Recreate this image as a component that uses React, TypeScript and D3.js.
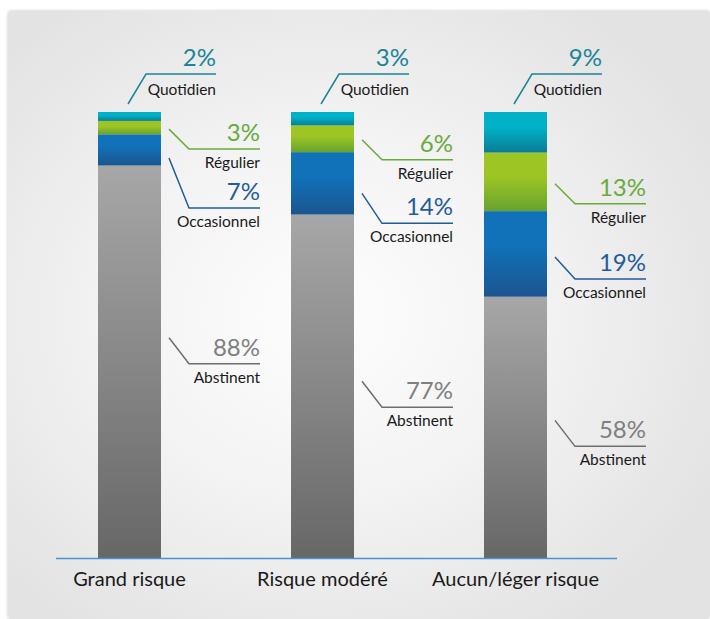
import React from "react";
import * as d3 from "d3";

// ---- data ----
const categories = ["Grand risque", "Risque modéré", "Aucun/léger risque"];
const seriesKeys = ["Abstinent", "Occasionnel", "Régulier", "Quotidien"];
const abstinent = [88, 77, 58];
const occasionnel = [7, 14, 19];
const regulier = [3, 6, 13];
const quotidien = [2, 3, 9];

// ---- styling / layout ----
const W = 710;
const H = 619;
const FONT = "Lato, 'Open Sans', sans-serif";

const segColors: Record<string, [string, string]> = {
  Quotidien: ["#00b1c7", "#0b7c95"],
  Régulier: ["#9dc624", "#68a22f"],
  Occasionnel: ["#1171b9", "#1b5590"],
  Abstinent: ["#a7a7a7", "#676767"],
};
const textColors: Record<string, string> = {
  Quotidien: "#1b8499",
  Régulier: "#68ab3c",
  Occasionnel: "#1f5c9c",
  Abstinent: "#7f7f7f",
};
const lineColors: Record<string, string> = {
  Quotidien: "#1b8499",
  Régulier: "#68ab3c",
  Occasionnel: "#1f5c9c",
  Abstinent: "#6e6e6e",
};
// leader layout for side labels: nudge of start from segment middle, vertical drop
const sideLayout: Record<string, { nudge: number; drop: number }[]> = {
  Régulier: [
    { nudge: 1.5, drop: 20 },
    { nudge: 1, drop: 20 },
    { nudge: 2, drop: 20 },
  ],
  Occasionnel: [
    { nudge: 8, drop: 50 },
    { nudge: 10, drop: 30 },
    { nudge: 3, drop: 22 },
  ],
  Abstinent: [
    { nudge: -24, drop: 26 },
    { nudge: -5, drop: 26 },
    { nudge: -7, drop: 26 },
  ],
};

const NUM_SIZE = 24;
const NAME_SIZE = 15.5;

export default function App() {
  const values: Record<string, number[]> = {
    Abstinent: abstinent,
    Occasionnel: occasionnel,
    Régulier: regulier,
    Quotidien: quotidien,
  };
  const rows = categories.map((c, i) => {
    const r: any = { cat: c };
    seriesKeys.forEach((k) => (r[k] = values[k][i]));
    return r;
  });
  const stacked = d3.stack<any>().keys(seriesKeys).offset(d3.stackOffsetExpand)(rows);

  const x = d3
    .scaleBand<string>()
    .domain(categories)
    .range([33, 612])
    .paddingInner(0.6736)
    .paddingOuter(0.3368);
  const y = d3.scaleLinear().domain([0, 1]).range([558, 112]);
  const bw = x.bandwidth();

  const labels: React.ReactNode[] = [];
  stacked.forEach((s) => {
    const key = s.key;
    s.forEach((d, i) => {
      const cat = categories[i];
      const left = x(cat)!;
      const right = left + bw;
      const valText = `${values[key][i]}%`;
      let sx: number, sy: number, ex: number, ey: number, rx: number, nameDy: number;
      if (key === "Quotidien") {
        const top = y(d[1]);
        sx = left + 30;
        sy = top - 8;
        ex = left + 48;
        ey = sy - 30;
        rx = left + 118;
        nameDy = 21;
      } else {
        const mid = (y(d[0]) + y(d[1])) / 2;
        const lay = sideLayout[key][i];
        sx = right + 8;
        sy = mid + lay.nudge;
        ex = right + 28;
        ey = sy + lay.drop;
        rx = right + 99;
        nameDy = 19;
      }
      labels.push(
        <g key={key + i}>
          <polyline
            points={`${sx},${sy} ${ex},${ey} ${rx},${ey}`}
            fill="none"
            stroke={lineColors[key]}
            strokeWidth={1.5}
          />
          <text x={rx} y={ey - 8} textAnchor="end" fontSize={NUM_SIZE} fill={textColors[key]} fontFamily={FONT}>
            {valText}
          </text>
          <text x={rx} y={ey + nameDy} textAnchor="end" fontSize={NAME_SIZE} fill="#1a1a1a" fontFamily={FONT}>
            {key}
          </text>
        </g>
      );
    });
  });

  return (
    <svg
      width={W}
      height={H}
      style={{ position: "absolute", left: 0, top: 0, background: "#ffffff" }}
    >
      <defs>
        <radialGradient id="bg" cx="0.45" cy="0.5" r="0.62">
          <stop offset="0" stopColor="#fdfdfd" />
          <stop offset="0.45" stopColor="#f4f4f4" />
          <stop offset="1" stopColor="#e3e3e3" />
        </radialGradient>
        <filter id="shadow" x="-5%" y="-5%" width="110%" height="110%">
          <feGaussianBlur in="SourceAlpha" stdDeviation="1.5" />
          <feOffset dx="0" dy="-0.5" />
          <feComponentTransfer>
            <feFuncA type="linear" slope="0.25" />
          </feComponentTransfer>
          <feMerge>
            <feMergeNode />
            <feMergeNode in="SourceGraphic" />
          </feMerge>
        </filter>
        {seriesKeys.map((k) => (
          <linearGradient key={k} id={`g-${k}`} x1="0" y1="0" x2="0" y2="1">
            <stop offset="0" stopColor={segColors[k][0]} />
            <stop offset={k === "Abstinent" ? "0" : "0.4"} stopColor={segColors[k][0]} />
            <stop offset="1" stopColor={segColors[k][1]} />
          </linearGradient>
        ))}
      </defs>
      <rect x={8} y={11} width={W - 8} height={H - 11} rx={3} fill="url(#bg)" filter="url(#shadow)" />

      {stacked.map((s) => (
        <g key={s.key}>
          {s.map((d, i) => (
            <rect
              key={i}
              x={x(categories[i])}
              y={y(d[1])}
              width={bw}
              height={y(d[0]) - y(d[1])}
              fill={`url(#g-${s.key})`}
            />
          ))}
        </g>
      ))}

      <line x1={56} x2={617} y1={558.5} y2={558.5} stroke="#4a92d6" strokeWidth={1.5} />

      {categories.map((c) => (
        <text
          key={c}
          x={x(c)! + bw / 2}
          y={586}
          textAnchor="middle"
          fontSize={20}
          fill="#1a1a1a"
          fontFamily={FONT}
        >
          {c}
        </text>
      ))}

      {labels}
    </svg>
  );
}
